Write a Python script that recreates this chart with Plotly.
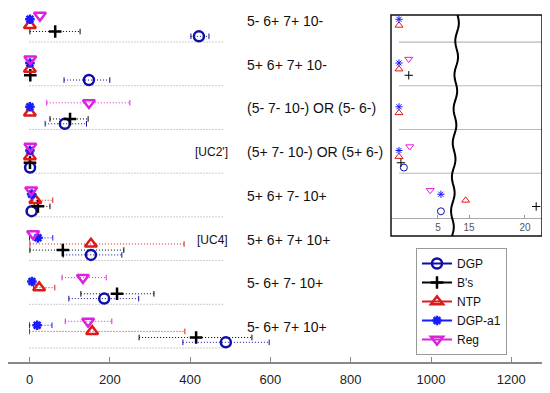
import math
import plotly.graph_objects as go

# ---------------- data ----------------
rows = ["5- 6+ 7+ 10-", "5+ 6+ 7+ 10-", "(5- 7- 10-) OR (5- 6-)",
        "(5+ 7- 10-) OR (5+ 6-)", "5+ 6+ 7- 10+", "5+ 6+ 7+ 10+",
        "5- 6+ 7- 10+", "5- 6+ 7+ 10+"]
row_tags = ["", "", "", "[UC2']", "", "[UC4]", "", ""]

dgp = [422, 148, 88, 1.5, 5.3, 153, 186, 489]
dgp_lo = [402, 86, 39, None, None, 84, 98, 382]
dgp_hi = [447, 200, 142, None, None, 230, 272, 597]

bs = [64, 2, 101, 1.2, 21, 83, 218, 415]
bs_lo = [1, None, 51, None, 12, 1, 128, 273]
bs_hi = [126, None, 146, None, 51, 235, 310, 554]

ntp = [1, 1, 1, 1, 14.7, 153, 24, 156]
ntp_lo = [None, None, None, None, 8, 1, 10, 0]
ntp_hi = [None, None, None, None, 58, 385, 63, 387]

a1 = [1, 1, 1, 1, 5.3, 21, 6, 19]
a1_lo = [None, None, None, None, None, 0, None, 0]
a1_hi = [None, None, None, None, None, 58, None, 56]

reg = [26, 2, 148, 2.1, 4.2, 9, 133, 146]
reg_lo = [None, None, 43, None, None, None, 81, 89]
reg_hi = [None, None, 250, None, None, None, 191, 205]

baseline_end = 485
main_ticks = [0, 200, 400, 600, 800, 1000, 1200]
inset_rows = 4          # rows whose separators appear in the inset
inset_left = [0.18, 6.54]
inset_right = [13.57, 21.52]

# ---------------- styling / layout constants ----------------
# the page body has an 8px margin, so the figure is drawn 8px in from the window corner
OFF = 8
W, H = 550 - OFF, 393 - OFF
def fx(px): return (px - OFF) / W
def fy(py): return 1 - (py - OFF) / H

series = [
    # name, values, lo, hi, colour, symbol, size, inset size, offset
    ("DGP", dgp, dgp_lo, dgp_hi, "#0f0fa8", "circle-open", 10, 7, 0.13),
    ("B's", bs, bs_lo, bs_hi, "#000000", "cross-thin-open", 9, 6, 0.24),
    ("NTP", ntp, ntp_lo, ntp_hi, "#dd1a1a", "triangle-up-open", 10.5, 7, 0.38),
    ("DGP-a1", a1, a1_lo, a1_hi, "#1a1aff", "asterisk-open", 8, 6, 0.52),
    ("Reg", reg, reg_lo, reg_hi, "#dd22dd", "triangle-down-open", 10.5, 7, 0.61),
]

fig = go.Figure()
n = len(rows)

# dotted row baselines
bx, by = [], []
for i in range(n):
    bx += [0, baseline_end, None]
    by += [-i, -i, None]
fig.add_trace(go.Scatter(x=bx, y=by, mode="lines", showlegend=False, hoverinfo="skip",
                         line=dict(color="#9a9a9a", width=1, dash="1px,2px")))

# inset row separators
for xa, (a, b) in (("x2", (1, inset_left[1])), ("x3", tuple(inset_right))):
    gx, gy = [], []
    for i in range(inset_rows):
        gx += [a, b, None]
        gy += [-i, -i, None]
    fig.add_trace(go.Scatter(x=gx, y=gy, xaxis=xa, yaxis="y2", mode="lines",
                             showlegend=False, hoverinfo="skip",
                             line=dict(color="#b8b8b8", width=1.2)))

# error ranges
for name, vals, lo, hi, col, sym, sz, isz, off in series:
    ex, ey = [], []
    for i in range(n):
        if lo[i] is None or hi[i] is None:
            continue
        ex += [lo[i], hi[i], None]
        ey += [-i + off, -i + off, None]
    if ex:
        fig.add_trace(go.Scatter(
            x=ex, y=ey, mode="lines+markers", showlegend=False, hoverinfo="skip",
            line=dict(color=col, width=1, dash="1px,2px"),
            marker=dict(symbol="line-ns-open", size=4, line=dict(color=col, width=1))))

# markers (main)
for name, vals, lo, hi, col, sym, sz, isz, off in series:
    mx, my = [], []
    for i in range(n):
        mx += [vals[i], None]
        my += [-i + off, None]
    fig.add_trace(go.Scatter(
        x=mx, y=my, mode="lines+markers", name=name, connectgaps=False,
        line=dict(color=col, width=2),
        marker=dict(symbol=sym, size=sz, color=col, line=dict(color=col, width=2.5))))

# inset markers (broken axis: x2 left part, x3 right part)
for xa in ("x2", "x3"):
    for name, vals, lo, hi, col, sym, sz, isz, off in series:
        fig.add_trace(go.Scatter(
            x=vals, y=[-i + off for i in range(n)], xaxis=xa, yaxis="y2",
            mode="markers", showlegend=False, hoverinfo="skip",
            marker=dict(symbol=sym, size=isz, color=col, line=dict(color=col, width=1))))

# row labels
annotations = []
for i in range(n):
    annotations.append(dict(x=537, y=-i + 0.48, xref="x", yref="y", text=rows[i],
                            showarrow=False, xanchor="left", yanchor="middle",
                            font=dict(size=14, color="#111")))
    if row_tags[i]:
        annotations.append(dict(x=500, y=-i + 0.48, xref="x", yref="y", text=row_tags[i],
                                showarrow=False, xanchor="right", yanchor="middle",
                                font=dict(size=12, color="#111")))

# inset frame and squiggle (broken-axis mark)
pts = []
steps = 80
for k in range(steps + 1):
    py = 15 + (236 - 15) * k / steps
    t = (py - 15) / 221
    px = 457.5 - 5.5 * t + 1.6 * math.sin(2 * math.pi * (py - 15) / 34)
    pts.append((fx(px), fy(py)))
path = "M" + " L".join(f"{a:.5f},{b:.5f}" for a, b in pts)

shapes = [
    dict(type="rect", xref="paper", yref="paper", x0=fx(391), x1=fx(542), y0=fy(236), y1=fy(15),
         line=dict(color="#111", width=1.5), fillcolor="rgba(0,0,0,0)"),
    dict(type="path", xref="paper", yref="paper", path=path, line=dict(color="#000", width=2)),
]

px0, pscale = 29.5, 0.4015
row_px = 43.7
fig.update_layout(
    width=W, height=H, template="none",
    margin=dict(l=0, r=0, t=0, b=0),
    paper_bgcolor="white", plot_bgcolor="white",
    font=dict(family="Liberation Sans, Arial, sans-serif", size=13, color="#111"),
    xaxis=dict(domain=[0, 1], range=[(OFF - px0) / pscale, (550 - px0) / pscale],
               tickvals=main_ticks, ticks="inside", ticklen=5, tickcolor="#888",
               showline=True, linecolor="#888", linewidth=1.5, showgrid=False, zeroline=False,
               tickfont=dict(size=13, color="#222"), ticklabelstandoff=5, automargin=False),
    yaxis=dict(domain=[fy(362), 1], range=[-7 - (362 - 348) / row_px, (42 - OFF) / row_px],
               showticklabels=False,
               ticks="", showline=True, linecolor="#999", linewidth=1.5, showgrid=False,
               zeroline=False, automargin=False),
    xaxis2=dict(domain=[fx(391), fx(453)], range=inset_left, anchor="y2",
                tickvals=[5], ticks="inside", ticklen=3, tickcolor="#999",
                showline=True, linecolor="#aaa", linewidth=1, showgrid=False, zeroline=False,
                tickfont=dict(size=10, color="#555"), automargin=False),
    xaxis3=dict(domain=[fx(453), fx(542)], range=inset_right, anchor="y2",
                tickvals=[15, 20], ticks="inside", ticklen=3, tickcolor="#999",
                showline=True, linecolor="#aaa", linewidth=1, showgrid=False, zeroline=False,
                tickfont=dict(size=10, color="#555"), automargin=False),
    yaxis2=dict(domain=[fy(218), fy(15)], range=[-4 - (218 - 217) / row_px, (42 - 15) / row_px],
                anchor="x2", showticklabels=False, ticks="",
                showgrid=False, zeroline=False, showline=False, automargin=False),
    legend=dict(x=fx(416), y=fy(248), xanchor="left", yanchor="top",
                bgcolor="white", bordercolor="#999", borderwidth=1,
                font=dict(size=12, color="#111"), tracegroupgap=0),
    annotations=annotations, shapes=shapes, showlegend=True,
)

fig.write_html("out.html")
